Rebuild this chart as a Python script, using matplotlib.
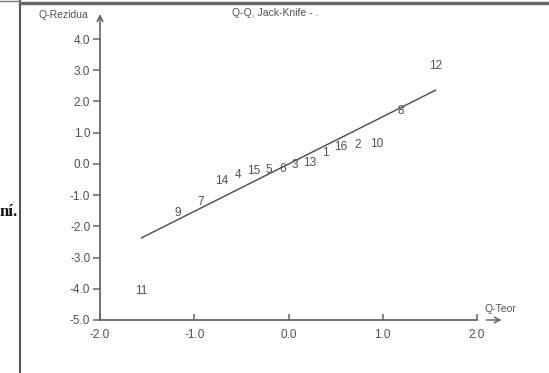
import matplotlib.pyplot as plt

# Q-Q graf reziduí (Jack-Knife) - čísla bodů a jejich souřadnice
labels = ["1", "2", "3", "4", "5", "6", "7", "8", "9", "10",
          "11", "12", "13", "14", "15", "16"]
q_teor = [0.39, 0.73, 0.07, -0.54, -0.21, -0.06, -0.93, 1.19, -1.18, 0.94,
          -1.56, 1.56, 0.22, -0.71, -0.37, 0.55]
q_rez = [0.35, 0.61, -0.03, -0.35, -0.19, -0.16, -1.22, 1.70, -1.57, 0.64,
         -4.07, 3.14, 0.03, -0.54, -0.22, 0.55]

# Přímka
line_x = [-1.56, 1.56]
line_y = [-2.37, 2.36]

xticks = [-2.0, -1.0, 0.0, 1.0, 2.0]
yticks = [-5.0, -4.0, -3.0, -2.0, -1.0, 0.0, 1.0, 2.0, 3.0, 4.0]

W, H = 549, 373
txt = "#4f4f4f"
axc = "#666666"
plt.rcParams['font.family'] = ['Liberation Sans', 'DejaVu Sans']

fig = plt.figure(figsize=(W / 100, H / 100), dpi=100)
ax = fig.add_axes([100 / W, 1 - 320 / H, 377 / W, 281 / H])
ax.set_xlim(-2, 2)
ax.set_ylim(-5, 4)
for s in ["top", "right"]:
    ax.spines[s].set_visible(False)
for s in ["left", "bottom"]:
    ax.spines[s].set_color(axc)
    ax.spines[s].set_linewidth(1.3)

ax.set_xticks(xticks)
ax.set_xticklabels([f"{v:.1f}" for v in xticks])
ax.set_yticks(yticks)
ax.set_yticklabels([f"{v:.1f}" for v in yticks])
ax.tick_params(axis="both", colors=axc, labelcolor=txt, labelsize=8.5,
               width=1.1)
ax.tick_params(axis="x", direction="in", length=4, pad=6.5)
ax.tick_params(axis="y", direction="out", length=5, pad=2)

ax.plot(line_x, line_y, color="#555555", lw=1.1)
for lab, x, y in zip(labels, q_teor, q_rez):
    ax.text(x, y, lab, ha="center", va="center", fontsize=8.5, color=txt)

# šipky os
ax.annotate("", xy=(2.29, -5), xytext=(2.07, -5), annotation_clip=False,
            arrowprops=dict(arrowstyle="->", color=axc, lw=1.1))
ax.annotate("", xy=(0, 4.8), xytext=(0, 4.0), xycoords=("axes fraction", "data"),
            annotation_clip=False,
            arrowprops=dict(arrowstyle="->", color=axc, lw=1.2,
                            shrinkA=0, shrinkB=0))

fig.text(88 / W, 1 - 15 / H, "Q-Rezidua", ha="right", va="center", fontsize=7.5, color=txt)
fig.text(485 / W, 1 - 309 / H, "Q-Teor", ha="left", va="center", fontsize=7.5, color=txt)
fig.text(275 / W, 1 - 13 / H, "Q-Q, Jack-Knife - .", ha="center", va="center",
         fontsize=7.5, color=txt)

# okraj stránky
fig.add_artist(plt.Line2D([20 / W, 20 / W], [0, 1], color="#555555", lw=1.5))
fig.add_artist(plt.Line2D([20 / W, 1], [1 - 2.5 / H, 1 - 2.5 / H], color="#666666", lw=2.5))
fig.add_artist(plt.Line2D([0, 20 / W], [1 - 1 / H, 1 - 1 / H], color="#777777", lw=1))
fig.text(18 / W, 1 - 212 / H, "ní.", ha="right", va="center", fontsize=12,
         fontweight="bold", family="Liberation Serif", color="#111111")

fig.savefig("out.png", dpi=100)
